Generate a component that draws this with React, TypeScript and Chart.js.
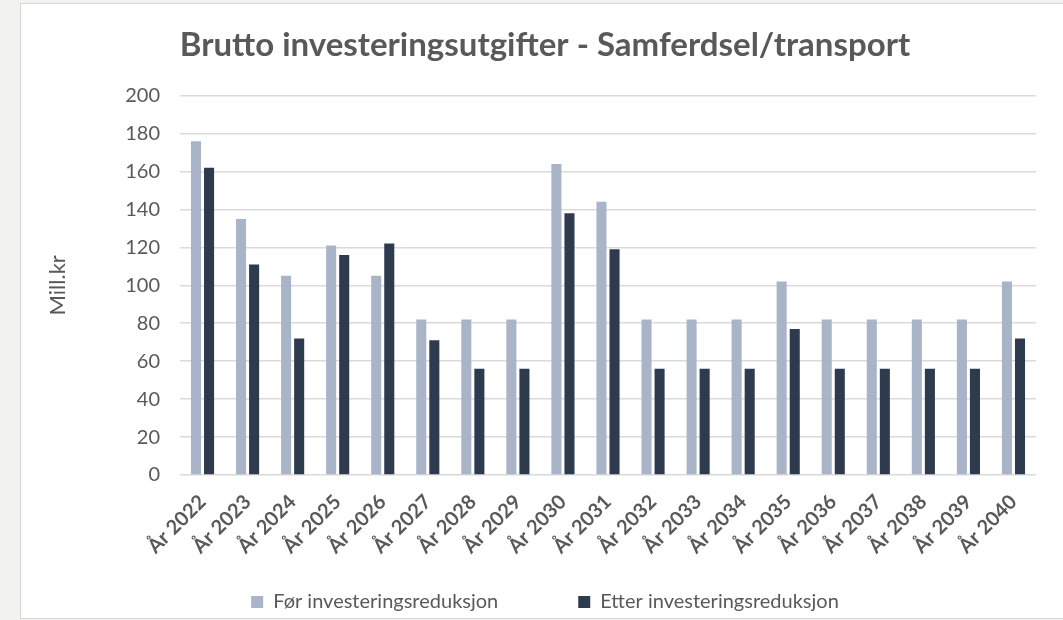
import React, { useEffect, useRef } from "react";
import { Chart, registerables } from "chart.js";

Chart.register(...registerables);

const TITLE = "Brutto investeringsutgifter - Samferdsel/transport";
const Y_TITLE = "Mill.kr";
const SERIES_NAMES = ["Før investeringsreduksjon", "Etter investeringsreduksjon"];

const categories = [
  "År 2022", "År 2023", "År 2024", "År 2025", "År 2026", "År 2027", "År 2028",
  "År 2029", "År 2030", "År 2031", "År 2032", "År 2033", "År 2034", "År 2035",
  "År 2036", "År 2037", "År 2038", "År 2039", "År 2040",
];

const forValues = [176, 135, 105, 121, 105, 82, 82, 82, 164, 144, 82, 82, 82, 102, 82, 82, 82, 82, 102];
const etterValues = [162, 111, 72, 116, 122, 71, 56, 56, 138, 119, 56, 56, 56, 77, 56, 56, 56, 56, 72];

const Y_MIN = 0;
const Y_MAX = 200;
const Y_STEP = 20;

const FONT = "Lato, 'Open Sans', sans-serif";
const LIGHT = "#a9b4c8";
const DARK = "#2e3a4e";
const TEXT = "#595959";

export default function App() {
  const ref = useRef<HTMLCanvasElement>(null);

  useEffect(() => {
    const canvas = ref.current;
    if (!canvas) return;
    const chart = new Chart(canvas, {
      type: "bar",
      data: {
        labels: categories,
        datasets: [
          {
            label: SERIES_NAMES[0],
            data: forValues,
            backgroundColor: LIGHT,
            categoryPercentage: 0.58,
            barPercentage: 0.77,
          },
          {
            label: SERIES_NAMES[1],
            data: etterValues,
            backgroundColor: DARK,
            categoryPercentage: 0.58,
            barPercentage: 0.77,
          },
        ],
      },
      options: {
        animation: false,
        responsive: false,
        maintainAspectRatio: false,
        layout: { padding: 0 },
        plugins: {
          title: {
            display: true,
            text: TITLE,
            color: TEXT,
            font: { family: FONT, size: 33, weight: "bold" },
            padding: { top: 22, bottom: 30 },
          },
          legend: {
            position: "bottom",
            labels: {
              boxWidth: 12,
              boxHeight: 12,
              color: TEXT,
              font: { family: FONT, size: 20 },
              padding: 80,
            },
          },
          tooltip: { enabled: false },
        },
        scales: {
          x: {
            grid: { display: false, drawTicks: false },
            border: { display: false },
            ticks: {
              color: TEXT,
              font: { family: FONT, size: 20, weight: "bold" },
              minRotation: 45,
              maxRotation: 45,
              autoSkip: false,
              padding: 15,
            },
            afterFit: (s: any) => {
              s.height = 37;
              // let the rotated labels extend into the (empty) upper part of the legend band
              s._computeLabelArea = () => undefined;
            },
          },
          y: {
            min: Y_MIN,
            max: Y_MAX,
            ticks: {
              stepSize: Y_STEP,
              padding: 20,
              color: TEXT,
              font: { family: FONT, size: 20 },
            },
            grid: { color: "#dadada", lineWidth: 1.5, drawTicks: false },
            border: { display: false },
            title: {
              display: true,
              text: Y_TITLE,
              color: TEXT,
              font: { family: FONT, size: 22 },
              padding: { top: 24, bottom: 0 },
            },
            afterFit: (s: any) => {
              s.width = 159;
            },
          },
          yRight: {
            type: "linear",
            position: "right",
            display: true,
            grid: { display: false, drawTicks: false },
            border: { display: false },
            ticks: { display: false },
            afterFit: (s: any) => {
              s.width = 33;
            },
          },
        },
      } as any,
    });
    return () => chart.destroy();
  }, []);

  return (
    <div
      style={{
        position: "fixed",
        left: 0,
        top: 0,
        width: 1063,
        height: 620,
        background: "#f2f3f1",
        overflow: "hidden",
      }}
    >
      <div
        style={{
          position: "absolute",
          left: 20,
          top: 3,
          width: 1060,
          height: 614,
          background: "#ffffff",
          border: "1px solid #d4d6d4",
          overflow: "hidden",
        }}
      >
        <canvas
          ref={ref}
          width={1048}
          height={618}
          style={{ position: "absolute", left: 0, top: 0, width: 1048, height: 618 }}
        />
      </div>
    </div>
  );
}
